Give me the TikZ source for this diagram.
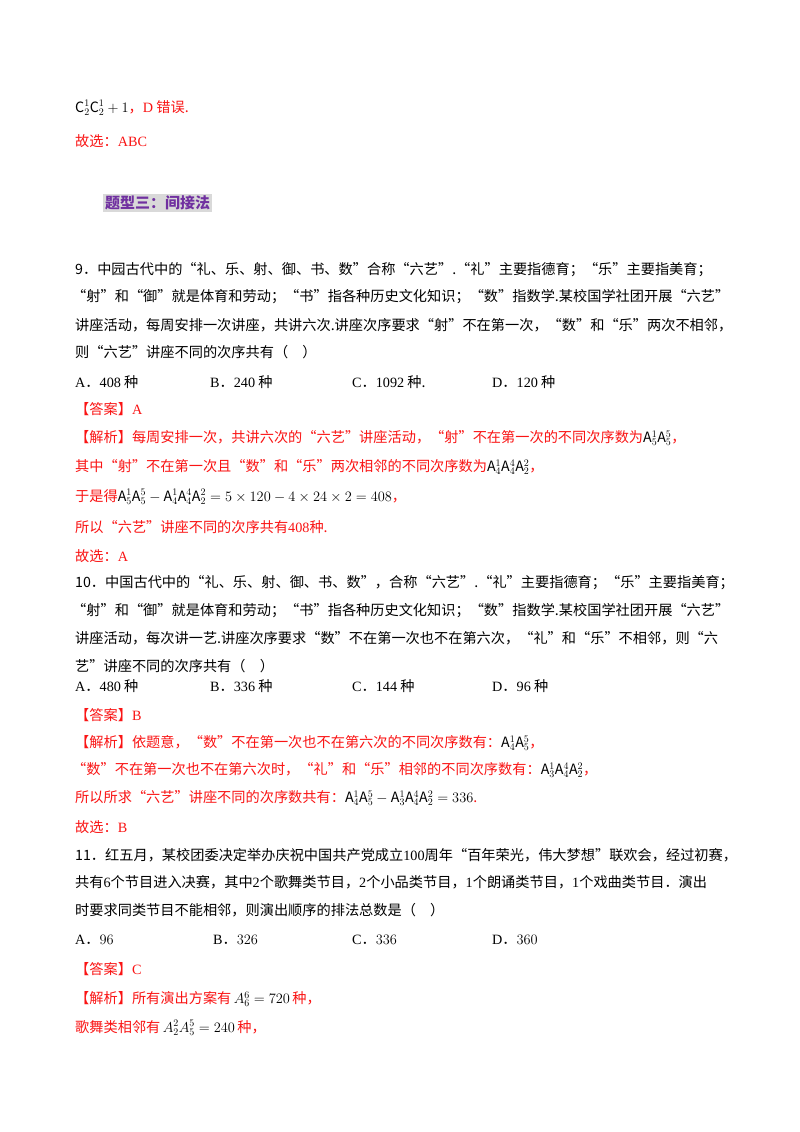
\documentclass[tikz,border=0pt]{standalone}
\usepackage{fontspec}
\setmainfont{Noto Sans CJK SC}
\newfontfamily\lt{Liberation Serif}
\definecolor{ans}{RGB}{250,20,20}
\definecolor{hp}{RGB}{112,48,160}
\definecolor{hb}{RGB}{217,217,217}
\newcommand{\myA}[2]{\mathrm{A}_{#1}^{#2}}
\begin{document}
\begin{tikzpicture}[x=1pt,y=-1pt,
  t/.style={anchor=west,inner sep=0pt,font=\fontsize{14.2}{14}\selectfont},
  r/.style={t,text=ans}]
\useasboundingbox[fill=white] (0,0) rectangle (800,1132);
\node[t] (l1) at (75,108) {$\mathrm{C}_2^1\mathrm{C}_2^1+1$\textcolor{ans}{，{\lt D} 错误.}};
\node[r] (l2) at (75,141) {故选：{\lt ABC}};
\node[anchor=west,fill=hb,inner sep=2pt,text=hp,font=\fontsize{15}{15}\selectfont\bfseries] (h) at (103,203) {题型三：间接法};
\node[t] (q9a) at (75,270) {9．中园古代中的“礼、乐、射、御、书、数”合称“六艺”.“礼”主要指德育；“乐”主要指美育；};
\node[t] (q9b) at (72,297) {“射”和“御”就是体育和劳动；“书”指各种历史文化知识；“数”指数学.某校国学社团开展“六艺”};
\node[t] (q9c) at (75,325) {讲座活动，每周安排一次讲座，共讲六次.讲座次序要求“射”不在第一次，“数”和“乐”两次不相邻，};
\node[t] (q9d) at (75,352) {则“六艺”讲座不同的次序共有（\hspace{1em}）};
\node[t] (o9a) at (75,382) {{\lt A}．{\lt 408} 种};
\node[t] (o9b) at (210,382) {{\lt B}．{\lt 240} 种};
\node[t] (o9c) at (352,382) {{\lt C}．{\lt 1092} 种.};
\node[t] (o9d) at (492,382) {{\lt D}．{\lt 120} 种};
\node[r] (a9) at (75,409) {【答案】{\lt A}};
\node[r] (j9a) at (75,438) {【解析】每周安排一次，共讲六次的“六艺”讲座活动，“射”不在第一次的不同次序数为\textcolor{black}{$\myA51\myA55$}，};
\node[r] (j9b) at (75,467) {其中“射”不在第一次且“数”和“乐”两次相邻的不同次序数为\textcolor{black}{$\myA41\myA44\myA22$}，};
\node[r] (j9c) at (75,497) {于是得\textcolor{black}{$\myA51\myA55-\myA41\myA44\myA22=5\times120-4\times24\times2=408$}，};
\node[r] (j9d) at (75,527) {所以“六艺”讲座不同的次序共有{\lt 408}种.};
\node[r] (g9) at (75,556) {故选：{\lt A}};
\node[t] (q10a) at (75,583) {10．中国古代中的“礼、乐、射、御、书、数”，合称“六艺”.“礼”主要指德育；“乐”主要指美育；};
\node[t] (q10b) at (72,611) {“射”和“御”就是体育和劳动；“书”指各种历史文化知识；“数”指数学.某校国学社团开展“六艺”};
\node[t] (q10c) at (75,638) {讲座活动，每次讲一艺.讲座次序要求“数”不在第一次也不在第六次，“礼”和“乐”不相邻，则“六};
\node[t] (q10d) at (75,666) {艺”讲座不同的次序共有（\hspace{1em}）};
\node[t] (o10a) at (75,686) {{\lt A}．{\lt 480} 种};
\node[t] (o10b) at (210,686) {{\lt B}．{\lt 336} 种};
\node[t] (o10c) at (352,686) {{\lt C}．{\lt 144} 种};
\node[t] (o10d) at (492,686) {{\lt D}．{\lt 96} 种};
\node[r] (a10) at (75,715) {【答案】{\lt B}};
\node[r] (j10a) at (75,743) {【解析】依题意，“数”不在第一次也不在第六次的不同次序数有：\textcolor{black}{$\myA41\myA55$}，};
\node[r] (j10b) at (72,770) {“数”不在第一次也不在第六次时，“礼”和“乐”相邻的不同次序数有：\textcolor{black}{$\myA31\myA44\myA22$}，};
\node[r] (j10c) at (75,798) {所以所求“六艺”讲座不同的次序数共有：\textcolor{black}{$\myA41\myA55-\myA31\myA44\myA22=336$}.};
\node[r] (g10) at (75,827) {故选：{\lt B}};
\node[t] (q11a) at (75,855) {11．红五月，某校团委决定举办庆祝中国共产党成立{\lt 100}周年“百年荣光，伟大梦想”联欢会，经过初赛，};
\node[t] (q11b) at (75,882) {共有{\lt 6}个节目进入决赛，其中{\lt 2}个歌舞类节目，{\lt 2}个小品类节目，{\lt 1}个朗诵类节目，{\lt 1}个戏曲类节目．演出};
\node[t] (q11c) at (75,910) {时要求同类节目不能相邻，则演出顺序的排法总数是（\hspace{1em}）};
\node[t] (o11a) at (75,940) {{\lt A}．$96$};
\node[t] (o11b) at (213,940) {{\lt B}．$326$};
\node[t] (o11c) at (352,940) {{\lt C}．$336$};
\node[t] (o11d) at (492,940) {{\lt D}．$360$};
\node[r] (a11) at (75,969) {【答案】{\lt C}};
\node[r] (j11a) at (75,999) {【解析】所有演出方案有\textcolor{black}{\,$A_6^6=720$\,}种，};
\node[r] (j11b) at (75,1028) {歌舞类相邻有\textcolor{black}{\,$A_2^2A_5^5=240$\,}种，};
\end{tikzpicture}
\end{document}
